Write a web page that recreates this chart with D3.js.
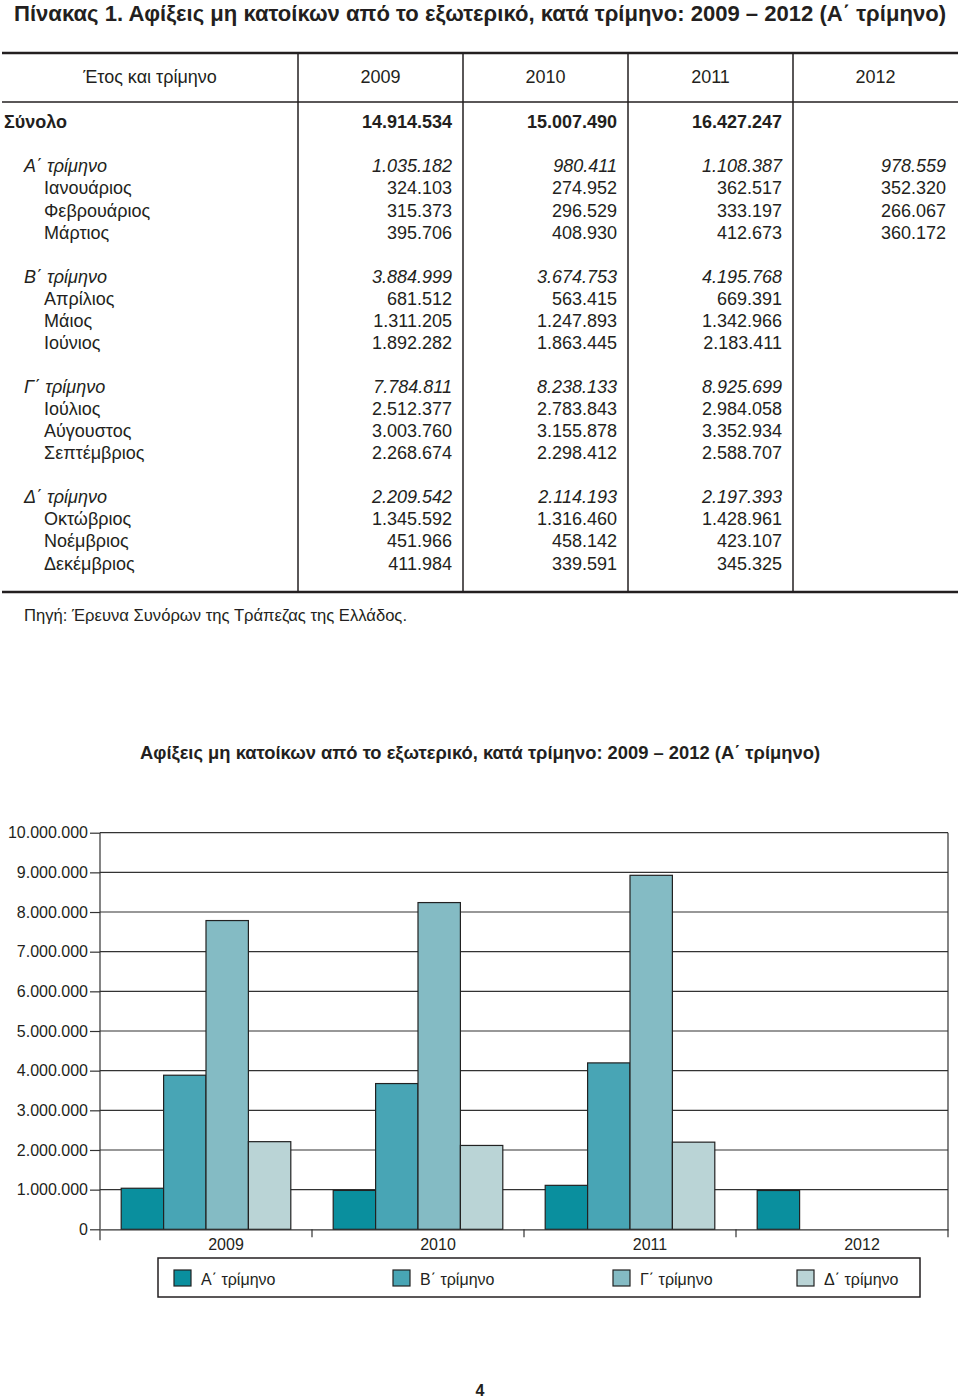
<!DOCTYPE html>
<html>
<head>
<meta charset="utf-8">
<script src="https://cdn.jsdelivr.net/npm/d3@7"></script>
<style>
  body { margin: 0; background: #fff; }
  text { font-family: "Liberation Sans", Arial, sans-serif; fill: #231f20; }
</style>
</head>
<body>
<div id="page"></div>
<script>
// table data
var rowLabels = ["Σύνολο",
  "Α΄ τρίμηνο", "Ιανουάριος", "Φεβρουάριος", "Μάρτιος",
  "Β΄ τρίμηνο", "Απρίλιος", "Μάιος", "Ιούνιος",
  "Γ΄ τρίμηνο", "Ιούλιος", "Αύγουστος", "Σεπτέμβριος",
  "Δ΄ τρίμηνο", "Οκτώβριος", "Νοέμβριος", "Δεκέμβριος"];
var rowTypes = ["total", "q", "m", "m", "m", "q", "m", "m", "m", "q", "m", "m", "m", "q", "m", "m", "m"];
var rowSlots = [0, 2, 3, 4, 5, 7, 8, 9, 10, 12, 13, 14, 15, 17, 18, 19, 20];

var years = ["2009", "2010", "2011", "2012"];
var v2009 = [14914534, 1035182, 324103, 315373, 395706, 3884999, 681512, 1311205, 1892282, 7784811, 2512377, 3003760, 2268674, 2209542, 1345592, 451966, 411984];
var v2010 = [15007490, 980411, 274952, 296529, 408930, 3674753, 563415, 1247893, 1863445, 8238133, 2783843, 3155878, 2298412, 2114193, 1316460, 458142, 339591];
var v2011 = [16427247, 1108387, 362517, 333197, 412673, 4195768, 669391, 1342966, 2183411, 8925699, 2984058, 3352934, 2588707, 2197393, 1428961, 423107, 345325];
var v2012 = [null, 978559, 352320, 266067, 360172, null, null, null, null, null, null, null, null, null, null, null, null];

// chart data
var quarters = ["Α΄ τρίμηνο", "Β΄ τρίμηνο", "Γ΄ τρίμηνο", "Δ΄ τρίμηνο"];
var qA = [1035182, 980411, 1108387, 978559];
var qB = [3884999, 3674753, 4195768, null];
var qC = [7784811, 8238133, 8925699, null];
var qD = [2209542, 2114193, 2197393, null];
var yTicks = [0, 1000000, 2000000, 3000000, 4000000, 5000000, 6000000, 7000000, 8000000, 9000000, 10000000];

var colors = ["#0a8f9e", "#48a5b5", "#84bbc4", "#bad4d6"];

var loc = d3.formatLocale({ decimal: ",", thousands: ".", grouping: [3], currency: ["", ""] });
var fmt = loc.format(",d");

var svg = d3.select("#page").append("svg")
  .attr("width", 960)
  .attr("height", 1398);

// page title
svg.append("text")
  .attr("x", 14).attr("y", 21)
  .attr("font-family", "'Liberation Sans Narrow', 'Liberation Sans', sans-serif")
  .attr("font-weight", "bold")
  .attr("font-size", 22)
  .attr("textLength", 932)
  .attr("lengthAdjust", "spacingAndGlyphs")
  .text("Πίνακας 1. Αφίξεις μη κατοίκων από το εξωτερικό, κατά τρίμηνο: 2009 – 2012 (Α΄ τρίμηνο)");

// ---- table ----
var table = svg.append("g");
var colX = [298, 463, 628, 793];     // left edges of year columns
var colRight = [452, 617, 782, 946]; // right alignment of numbers
var slotY = d3.scaleLinear().domain([0, 20]).range([122, 563.2]);

table.append("line").attr("x1", 2).attr("x2", 958).attr("y1", 53).attr("y2", 53)
  .attr("stroke", "#231f20").attr("stroke-width", 2.6);
table.append("line").attr("x1", 2).attr("x2", 958).attr("y1", 102).attr("y2", 102)
  .attr("stroke", "#231f20").attr("stroke-width", 1.5);
table.append("line").attr("x1", 2).attr("x2", 958).attr("y1", 592).attr("y2", 592)
  .attr("stroke", "#231f20").attr("stroke-width", 2.6);
colX.forEach(function(x) {
  table.append("line").attr("x1", x).attr("x2", x).attr("y1", 53).attr("y2", 592)
    .attr("stroke", "#231f20").attr("stroke-width", 1.5);
});

table.append("text").attr("x", 150).attr("y", 77).attr("dy", "0.35em")
  .attr("text-anchor", "middle").attr("font-size", 18)
  .text("Έτος και τρίμηνο");
years.forEach(function(y, i) {
  table.append("text").attr("x", colX[i] + 82.5).attr("y", 77).attr("dy", "0.35em")
    .attr("text-anchor", "middle").attr("font-size", 18)
    .text(y);
});

rowLabels.forEach(function(lab, i) {
  var t = rowTypes[i];
  table.append("text")
    .attr("x", t == "total" ? 4 : (t == "q" ? 24 : 44))
    .attr("y", slotY(rowSlots[i])).attr("dy", "0.35em")
    .attr("font-size", 18)
    .attr("font-weight", t == "total" ? "bold" : "normal")
    .attr("font-style", t == "q" ? "italic" : "normal")
    .text(lab);
});

[v2009, v2010, v2011, v2012].forEach(function(vals, j) {
  vals.forEach(function(v, i) {
    if (v == null) return;
    var t = rowTypes[i];
    table.append("text")
      .attr("x", colRight[j])
      .attr("y", slotY(rowSlots[i])).attr("dy", "0.35em")
      .attr("text-anchor", "end")
      .attr("font-size", 18)
      .attr("font-weight", t == "total" ? "bold" : "normal")
      .attr("font-style", t == "q" ? "italic" : "normal")
      .text(fmt(v));
  });
});

svg.append("text").attr("x", 24).attr("y", 615).attr("dy", "0.35em")
  .attr("font-size", 16)
  .attr("textLength", 383).attr("lengthAdjust", "spacingAndGlyphs")
  .text("Πηγή: Έρευνα Συνόρων της Τράπεζας της Ελλάδος.");

// ---- chart ----
svg.append("text").attr("x", 480).attr("y", 753).attr("dy", "0.35em")
  .attr("text-anchor", "middle")
  .attr("font-weight", "bold").attr("font-size", 18)
  .attr("textLength", 680).attr("lengthAdjust", "spacingAndGlyphs")
  .text("Αφίξεις μη κατοίκων από το εξωτερικό, κατά τρίμηνο: 2009 – 2012 (Α΄ τρίμηνο)");

var plotLeft = 100, plotRight = 948, plotTop = 832.7, plotBottom = 1229.3;

var x0 = d3.scaleBand().domain(years).range([plotLeft, plotRight])
  .paddingInner(0.2).paddingOuter(0.1);
var x1 = d3.scaleBand().domain(quarters).range([0, x0.bandwidth()]);
var y = d3.scaleLinear().domain([0, 10000000]).range([plotBottom, plotTop]);

var chart = svg.append("g");

// gridlines
chart.append("g").selectAll("line").data(yTicks.slice(1)).enter().append("line")
  .attr("x1", plotLeft).attr("x2", plotRight)
  .attr("y1", d => y(d)).attr("y2", d => y(d))
  .attr("stroke", "#333").attr("stroke-width", 1.2);

// right border
chart.append("line").attr("x1", plotRight).attr("x2", plotRight)
  .attr("y1", plotTop).attr("y2", plotBottom + 8)
  .attr("stroke", "#333").attr("stroke-width", 1.2);

// bars
var series = [qA, qB, qC, qD];
var barData = [];
years.forEach(function(yr, i) {
  quarters.forEach(function(q, k) {
    if (series[k][i] != null) barData.push({ year: yr, q: q, k: k, value: series[k][i] });
  });
});
chart.append("g").selectAll("rect").data(barData).enter().append("rect")
  .attr("x", d => x0(d.year) + x1(d.q))
  .attr("y", d => y(d.value))
  .attr("width", x1.bandwidth())
  .attr("height", d => plotBottom - y(d.value))
  .attr("fill", d => colors[d.k])
  .attr("stroke", "#222").attr("stroke-width", 1.2);

// y axis
var yAxis = chart.append("g")
  .attr("transform", `translate(${plotLeft},0)`)
  .call(d3.axisLeft(y).tickValues(yTicks).tickFormat(fmt).tickSize(10).tickPadding(2));
yAxis.select(".domain").remove();
yAxis.selectAll("line").attr("stroke", "#333").attr("stroke-width", 1.2);
yAxis.selectAll("text").attr("font-size", 16)
  .attr("font-family", "'Liberation Sans', Arial, sans-serif").attr("fill", "#231f20");
chart.append("line").attr("x1", plotLeft).attr("x2", plotLeft)
  .attr("y1", plotTop).attr("y2", plotBottom + 11)
  .attr("stroke", "#333").attr("stroke-width", 1.2);

// x axis
var xAxis = chart.append("g")
  .attr("transform", `translate(0,${plotBottom})`)
  .call(d3.axisBottom(x0).tickSize(0).tickPadding(9));
xAxis.select(".domain").attr("stroke", "#333").attr("stroke-width", 1.2);
xAxis.selectAll("text").attr("font-size", 16).attr("dx", 20)
  .attr("font-family", "'Liberation Sans', Arial, sans-serif").attr("fill", "#231f20");
var bounds = years.slice(1).map(d => x0(d) - x0.step() * x0.paddingInner() / 2);
chart.append("g").selectAll("line").data(bounds).enter().append("line")
  .attr("x1", d => d).attr("x2", d => d)
  .attr("y1", plotBottom).attr("y2", plotBottom + 8)
  .attr("stroke", "#333").attr("stroke-width", 1.2);

// legend
var legend = svg.append("g");
legend.append("rect").attr("x", 158).attr("y", 1258).attr("width", 762).attr("height", 39)
  .attr("fill", "none").attr("stroke", "#231f20").attr("stroke-width", 1.5);
var legX = [174, 393, 613, 797];
quarters.forEach(function(q, k) {
  legend.append("rect").attr("x", legX[k]).attr("y", 1270).attr("width", 17).attr("height", 16)
    .attr("fill", colors[k]).attr("stroke", "#222").attr("stroke-width", 1.2);
  legend.append("text").attr("x", legX[k] + 27).attr("y", 1279).attr("dy", "0.35em")
    .attr("font-size", 16).text(q);
});

// page number
svg.append("text").attr("x", 480).attr("y", 1390).attr("dy", "0.35em")
  .attr("text-anchor", "middle").attr("font-weight", "bold").attr("font-size", 16)
  .text("4");
</script>
</body>
</html>
